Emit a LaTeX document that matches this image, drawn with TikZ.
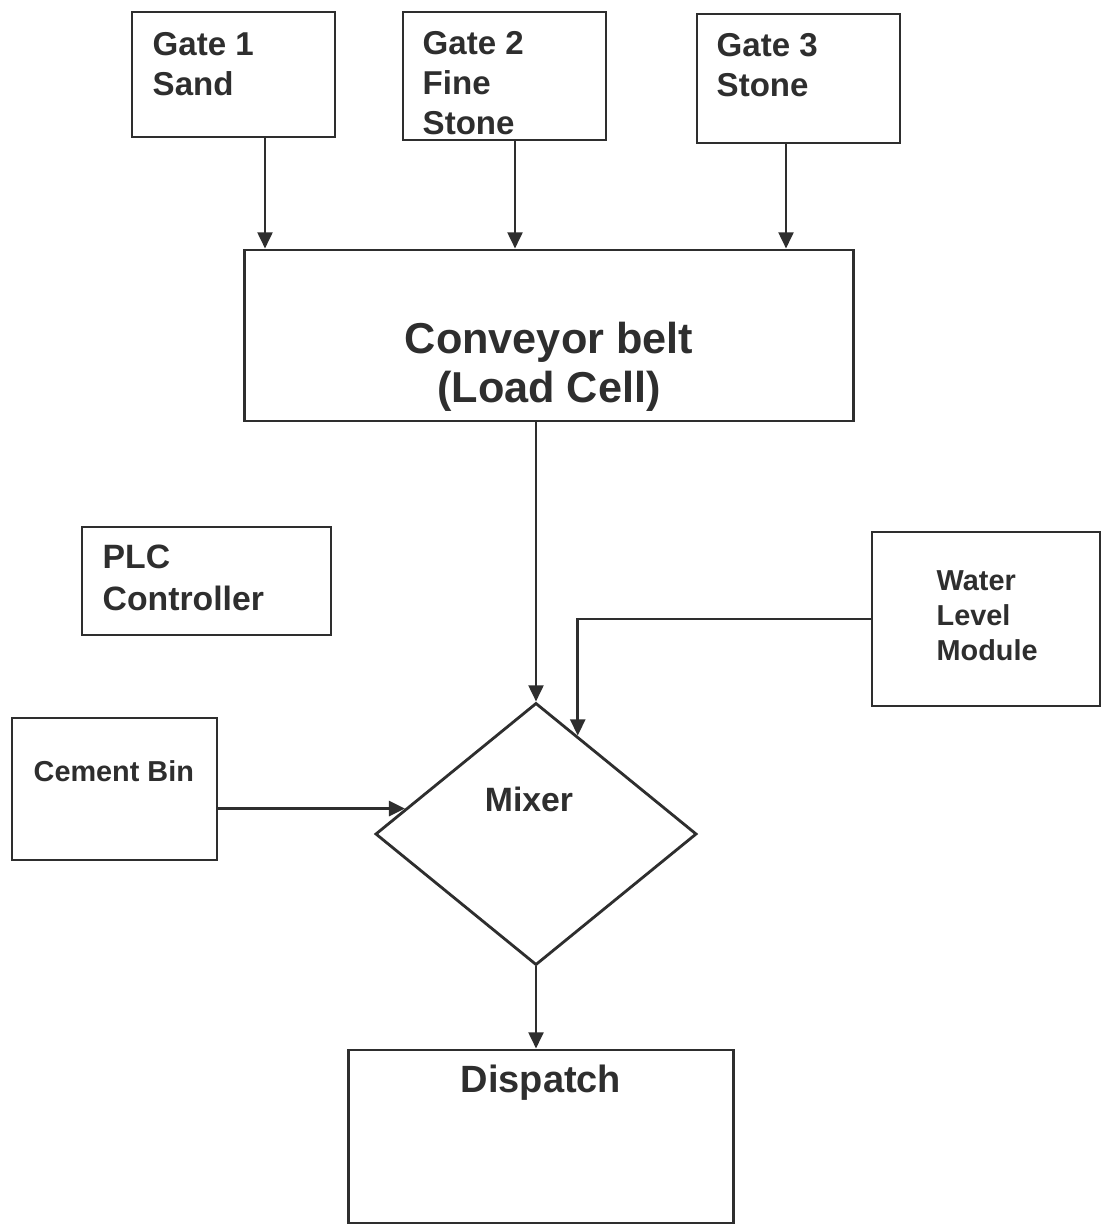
\documentclass[tikz,border=0pt]{standalone}
\usepackage{fontspec}
\setmainfont{Liberation Sans}
\usetikzlibrary{shapes.geometric,arrows.meta}
\definecolor{ink}{HTML}{2E2E2E}
\begin{document}
\begin{tikzpicture}[x=0.01cm,y=-0.01cm,
  box/.style={draw=ink,line width=0.8pt,inner sep=0pt},
  lbl/.style={inner sep=0pt,anchor=north west,align=left,text=ink,font=\bfseries},
  arr/.style={draw=ink,line width=0.8pt,-{Triangle[length=4.6pt,width=4.2pt]}}]
\fill[white] (0,0) rectangle (1109,1225);
\useasboundingbox (0,0) rectangle (1109,1225);
% boxes
\node[box,minimum width=2.03cm,minimum height=1.25cm] (g1) at (233.5,74.5) {};
\node[box,minimum width=2.03cm,minimum height=1.28cm] (g2) at (504.5,76) {};
\node[box,minimum width=2.03cm,minimum height=1.29cm] (g3) at (798.5,78.5) {};
\node[box,minimum width=6.08cm,minimum height=1.71cm] (conv) at (549,335.5) {};
\node[box,minimum width=2.49cm,minimum height=1.08cm] (plc) at (206.5,581) {};
\node[box,minimum width=2.28cm,minimum height=1.74cm] (water) at (986,619) {};
\node[box,minimum width=2.05cm,minimum height=1.42cm] (cement) at (114.5,789) {};
\node[box,diamond,minimum width=3.21cm,minimum height=2.62cm] (mixer) at (536,834) {};
\node[box,minimum width=3.84cm,minimum height=1.73cm] (disp) at (541,1136.5) {};
% texts
\node[lbl,font=\bfseries\fontsize{9.4}{11.4}\selectfont] (t1) at (152,32) {Gate 1\\Sand};
\node[lbl,font=\bfseries\fontsize{9.4}{11.4}\selectfont] (t2) at (422,31) {Gate 2\\Fine\\Stone};
\node[lbl,font=\bfseries\fontsize{9.4}{11.4}\selectfont] (t3) at (716,33) {Gate 3\\Stone};
\node[lbl,anchor=center,align=center,font=\bfseries\fontsize{12.3}{13.8}\selectfont] (tc) at (549,367) {Conveyor belt\\(Load Cell)};
\node[lbl,font=\bfseries\fontsize{9.6}{12}\selectfont] (tp) at (102,544) {PLC\\Controller};
\node[lbl,font=\bfseries\fontsize{8.2}{10}\selectfont] (tw) at (936,570) {Water\\Level\\Module};
\node[lbl,font=\bfseries\fontsize{8.2}{10}\selectfont] (tb) at (33,760) {Cement Bin};
\node[lbl,anchor=center,font=\bfseries\fontsize{9.6}{11}\selectfont] (tm) at (529,799) {Mixer};
\node[lbl,anchor=center,font=\bfseries\fontsize{10.8}{12}\selectfont] (td) at (541,1083) {Dispatch};
% connectors
\draw[arr] (g1.south -| 265,0) -- (conv.north -| 265,0);
\draw[arr] (g2.south -| 515,0) -- (conv.north -| 515,0);
\draw[arr] (g3.south -| 786,0) -- (conv.north -| 786,0);
\draw[arr] (conv.south -| mixer.north) -- (mixer.north);
\draw[arr] (water.west) -| (mixer.67);
\draw[arr,line width=1pt] (cement.east |- mixer.169) -- (mixer.169);
\draw[arr] (mixer.south) -- (disp.north -| mixer.south);
\end{tikzpicture}
\end{document}
